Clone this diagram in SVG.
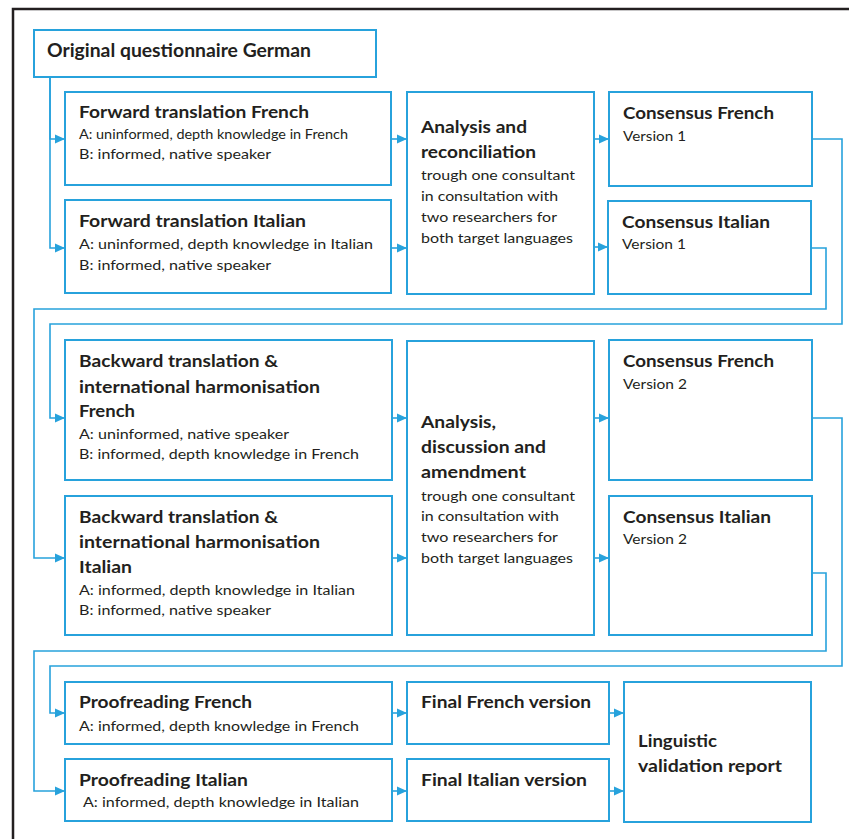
<svg xmlns="http://www.w3.org/2000/svg" width="849" height="839" viewBox="0 0 849 839">
<style>
.bx{fill:#fff;stroke:#27a2dc;stroke-width:2}
.cn{fill:none;stroke:#27a2dc;stroke-width:1.6}
text{font-family:Lato,"Open Sans","Liberation Sans",sans-serif;fill:#231f20}
.t{font-weight:bold;font-size:17.5px}
.t0{font-weight:bold;font-size:19px}
.s{font-size:13.5px}
</style>
<defs>
<marker id="ah" markerUnits="userSpaceOnUse" markerWidth="10" markerHeight="10" refX="10" refY="4.5" orient="auto" viewBox="0 0 10 9">
<path d="M0,0 L10,4.5 L0,9 z" fill="#27a2dc"/>
</marker>
</defs>
<rect width="849" height="839" fill="#fff"/>
<path d="M13,839 V9 H849" fill="none" stroke="#231f20" stroke-width="2.5"/>
<g id="connectors">
<path class="cn" d="M50,77 V139 H65" marker-end="url(#ah)"/>
<path class="cn" d="M50,77 V248 H65" marker-end="url(#ah)"/>
<path class="cn" d="M392,139 H407" marker-end="url(#ah)"/>
<path class="cn" d="M392,248 H407" marker-end="url(#ah)"/>
<path class="cn" d="M594,139 H609" marker-end="url(#ah)"/>
<path class="cn" d="M594,247 H608" marker-end="url(#ah)"/>
<path class="cn" d="M812,139 H842 V324 H50 V418 H65" marker-end="url(#ah)"/>
<path class="cn" d="M811,248 H826 V309 H34 V558 H65" marker-end="url(#ah)"/>
<path class="cn" d="M392,418 H407" marker-end="url(#ah)"/>
<path class="cn" d="M392,558 H407" marker-end="url(#ah)"/>
<path class="cn" d="M594,418 H609" marker-end="url(#ah)"/>
<path class="cn" d="M594,558 H609" marker-end="url(#ah)"/>
<path class="cn" d="M812,418 H842 V666 H50 V713 H65" marker-end="url(#ah)"/>
<path class="cn" d="M812,573 H826 V651 H34 V791 H65" marker-end="url(#ah)"/>
<path class="cn" d="M392,713 H407" marker-end="url(#ah)"/>
<path class="cn" d="M392,791 H407" marker-end="url(#ah)"/>
<path class="cn" d="M609,713 H624" marker-end="url(#ah)"/>
<path class="cn" d="M609,791 H624" marker-end="url(#ah)"/>
</g>
<g id="orig">
<rect class="bx" x="34" y="30" width="342" height="47"/>
<text class="t0" x="47" y="57" textLength="264" lengthAdjust="spacingAndGlyphs">Original questionnaire German</text>
</g>
<g id="fwdFr">
<rect class="bx" x="65" y="92" width="326" height="93"/>
<text class="t" x="79" y="118" textLength="230" lengthAdjust="spacingAndGlyphs">Forward translation French</text>
<text class="s" x="79" y="139" textLength="269" lengthAdjust="spacingAndGlyphs">A: uninformed, depth knowledge in French</text>
<text class="s" x="79" y="159" textLength="192" lengthAdjust="spacingAndGlyphs">B: informed, native speaker</text>
</g>
<g id="fwdIt">
<rect class="bx" x="65" y="200" width="326" height="93"/>
<text class="t" x="79" y="227" textLength="227" lengthAdjust="spacingAndGlyphs">Forward translation Italian</text>
<text class="s" x="79" y="249" textLength="294" lengthAdjust="spacingAndGlyphs">A: uninformed, depth knowledge in Italian</text>
<text class="s" x="79" y="270" textLength="192" lengthAdjust="spacingAndGlyphs">B: informed, native speaker</text>
</g>
<g id="ana1">
<rect class="bx" x="407" y="92" width="187" height="202"/>
<text class="t" x="421" y="133" textLength="106" lengthAdjust="spacingAndGlyphs">Analysis and</text>
<text class="t" x="421" y="158" textLength="115" lengthAdjust="spacingAndGlyphs">reconciliation</text>
<text class="s" x="421" y="180" textLength="154" lengthAdjust="spacingAndGlyphs">trough one consultant</text>
<text class="s" x="421" y="201" textLength="137" lengthAdjust="spacingAndGlyphs">in consultation with</text>
<text class="s" x="421" y="222" textLength="136" lengthAdjust="spacingAndGlyphs">two researchers for</text>
<text class="s" x="421" y="243" textLength="152" lengthAdjust="spacingAndGlyphs">both target languages</text>
</g>
<g id="consFr1">
<rect class="bx" x="609" y="92" width="203" height="94"/>
<text class="t" x="623" y="119" textLength="151" lengthAdjust="spacingAndGlyphs">Consensus French</text>
<text class="s" x="623" y="141" textLength="63" lengthAdjust="spacingAndGlyphs">Version 1</text>
</g>
<g id="consIt1">
<rect class="bx" x="608" y="201" width="203" height="93"/>
<text class="t" x="622" y="228" textLength="148" lengthAdjust="spacingAndGlyphs">Consensus Italian</text>
<text class="s" x="622" y="249" textLength="64" lengthAdjust="spacingAndGlyphs">Version 1</text>
</g>
<g id="bwdFr">
<rect class="bx" x="65" y="340" width="327" height="140"/>
<text class="t" x="79" y="367" textLength="199" lengthAdjust="spacingAndGlyphs">Backward translation &amp;</text>
<text class="t" x="79" y="393" textLength="241" lengthAdjust="spacingAndGlyphs">international harmonisation</text>
<text class="t" x="79" y="417" textLength="56" lengthAdjust="spacingAndGlyphs">French</text>
<text class="s" x="79" y="439" textLength="210" lengthAdjust="spacingAndGlyphs">A: uninformed, native speaker</text>
<text class="s" x="79" y="459" textLength="280" lengthAdjust="spacingAndGlyphs">B: informed, depth knowledge in French</text>
</g>
<g id="bwdIt">
<rect class="bx" x="65" y="496" width="327" height="139"/>
<text class="t" x="79" y="523" textLength="199" lengthAdjust="spacingAndGlyphs">Backward translation &amp;</text>
<text class="t" x="79" y="548" textLength="241" lengthAdjust="spacingAndGlyphs">international harmonisation</text>
<text class="t" x="79" y="573" textLength="53" lengthAdjust="spacingAndGlyphs">Italian</text>
<text class="s" x="79" y="595" textLength="276" lengthAdjust="spacingAndGlyphs">A: informed, depth knowledge in Italian</text>
<text class="s" x="79" y="615" textLength="192" lengthAdjust="spacingAndGlyphs">B: informed, native speaker</text>
</g>
<g id="ana2">
<rect class="bx" x="407" y="341" width="187" height="294"/>
<text class="t" x="421" y="428" textLength="75" lengthAdjust="spacingAndGlyphs">Analysis,</text>
<text class="t" x="421" y="453" textLength="125" lengthAdjust="spacingAndGlyphs">discussion and</text>
<text class="t" x="421" y="478" textLength="105" lengthAdjust="spacingAndGlyphs">amendment</text>
<text class="s" x="421" y="501" textLength="154" lengthAdjust="spacingAndGlyphs">trough one consultant</text>
<text class="s" x="421" y="521" textLength="138" lengthAdjust="spacingAndGlyphs">in consultation with</text>
<text class="s" x="421" y="542" textLength="137" lengthAdjust="spacingAndGlyphs">two researchers for</text>
<text class="s" x="421" y="563" textLength="152" lengthAdjust="spacingAndGlyphs">both target languages</text>
</g>
<g id="consFr2">
<rect class="bx" x="609" y="340" width="203" height="140"/>
<text class="t" x="623" y="367" textLength="151" lengthAdjust="spacingAndGlyphs">Consensus French</text>
<text class="s" x="623" y="389" textLength="64" lengthAdjust="spacingAndGlyphs">Version 2</text>
</g>
<g id="consIt2">
<rect class="bx" x="609" y="496" width="203" height="139"/>
<text class="t" x="623" y="523" textLength="148" lengthAdjust="spacingAndGlyphs">Consensus Italian</text>
<text class="s" x="623" y="544" textLength="64" lengthAdjust="spacingAndGlyphs">Version 2</text>
</g>
<g id="proofFr">
<rect class="bx" x="65" y="682" width="327" height="62"/>
<text class="t" x="79" y="708" textLength="173" lengthAdjust="spacingAndGlyphs">Proofreading French</text>
<text class="s" x="79" y="731" textLength="280" lengthAdjust="spacingAndGlyphs">A: informed, depth knowledge in French</text>
</g>
<g id="proofIt">
<rect class="bx" x="65" y="759" width="327" height="62"/>
<text class="t" x="79" y="786" textLength="169" lengthAdjust="spacingAndGlyphs">Proofreading Italian</text>
<text class="s" x="83" y="807" textLength="276" lengthAdjust="spacingAndGlyphs">A: informed, depth knowledge in Italian</text>
</g>
<g id="finalFr">
<rect class="bx" x="407" y="682" width="202" height="62"/>
<text class="t" x="421" y="708" textLength="170" lengthAdjust="spacingAndGlyphs">Final French version</text>
</g>
<g id="finalIt">
<rect class="bx" x="407" y="759" width="202" height="62"/>
<text class="t" x="421" y="786" textLength="166" lengthAdjust="spacingAndGlyphs">Final Italian version</text>
</g>
<g id="report">
<rect class="bx" x="624" y="682" width="187" height="140"/>
<text class="t" x="638" y="747" textLength="79" lengthAdjust="spacingAndGlyphs">Linguistic</text>
<text class="t" x="638" y="772" textLength="144" lengthAdjust="spacingAndGlyphs">validation report</text>
</g>
</svg>
